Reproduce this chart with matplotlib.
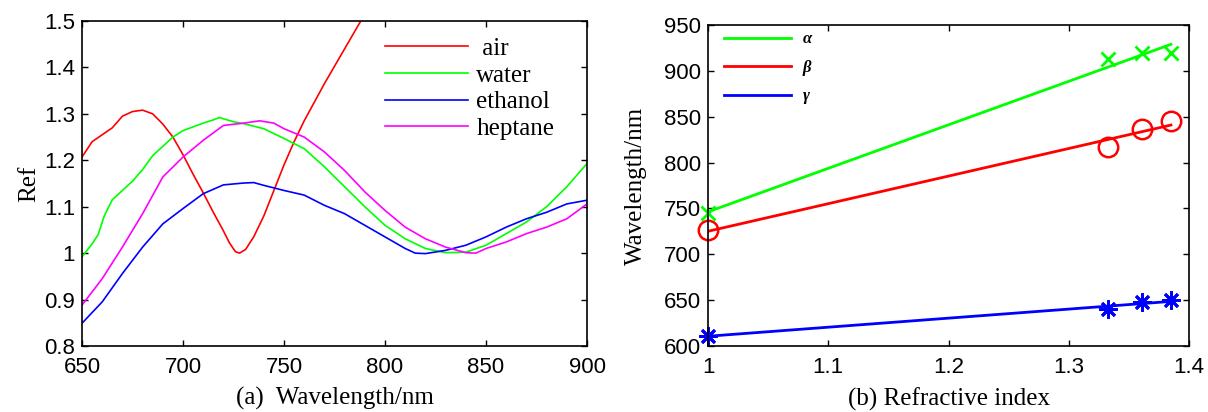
import numpy as np
import matplotlib
matplotlib.use('Agg')
import matplotlib.pyplot as plt
from matplotlib.ticker import FuncFormatter

# (a) spectra: wavelength (nm) vs normalised reflectance
wl_air = [650, 655, 660, 665, 670, 675, 680, 685, 690, 695, 700, 705, 710, 715,
          720, 723, 726, 728, 731, 735, 740, 745, 750, 755, 760, 770, 780, 790]
ref_air = [1.207, 1.24, 1.255, 1.27, 1.295, 1.305, 1.308, 1.300, 1.278, 1.250,
           1.212, 1.17, 1.13, 1.088, 1.048, 1.022, 1.003, 1.0, 1.008, 1.035,
           1.08, 1.135, 1.19, 1.24, 1.285, 1.365, 1.44, 1.515]

wl = [650, 655, 658, 661, 665, 670, 675, 680, 685, 690, 695, 700, 710, 715, 718,
      725, 730, 740, 750, 760, 770, 780, 790, 800, 810, 820, 830, 840, 850,
      860, 870, 880, 890, 900]
ref_water = [0.992, 1.02, 1.04, 1.08, 1.115, 1.135, 1.155, 1.18, 1.21, 1.23,
             1.25, 1.264, 1.28, 1.287, 1.292, 1.283, 1.279, 1.268, 1.247, 1.225,
             1.186, 1.143, 1.1, 1.06, 1.031, 1.01, 1.001, 1.002, 1.017, 1.042,
             1.067, 1.1, 1.143, 1.193]

wl_eth = [650, 660, 670, 680, 690, 700, 710, 720, 730, 735, 740, 750, 760, 770,
          780, 790, 800, 810, 815, 820, 830, 840, 850, 860, 870, 880, 890, 900]
ref_ethanol = [0.849, 0.895, 0.956, 1.013, 1.063, 1.096, 1.128, 1.147, 1.151,
               1.152, 1.146, 1.135, 1.125, 1.103, 1.085, 1.06, 1.035, 1.01, 1.0,
               0.999, 1.006, 1.017, 1.035, 1.056, 1.074, 1.088, 1.106, 1.114]

wl_hep = [650, 660, 670, 680, 690, 700, 710, 720, 730, 738, 745, 750, 760, 770,
          780, 790, 800, 810, 820, 830, 840, 845, 850, 860, 870, 880, 890, 900]
ref_heptane = [0.888, 0.945, 1.013, 1.085, 1.164, 1.207, 1.243, 1.275, 1.28,
               1.285, 1.28, 1.268, 1.25, 1.218, 1.178, 1.132, 1.092, 1.056,
               1.031, 1.013, 1.001, 1.0, 1.01, 1.024, 1.042, 1.056, 1.074, 1.106]

# (b) resonance wavelength vs refractive index
n_idx = [1.0, 1.333, 1.361, 1.385]
lam_alpha = [745, 913, 919, 920]
lam_beta = [726, 817, 837, 845]
lam_gamma = [611, 640, 648, 650]

plt.rcParams['font.family'] = 'Liberation Sans'
serif = 'Liberation Serif'

fig = plt.figure(figsize=(12.08, 4.12), dpi=100)
ax1 = fig.add_axes([82/1208, 66/412, 505/1208, 325/412])
ax2 = fig.add_axes([708/1208, 66/412, 481/1208, 321/412])


def fmt(v, pos):
    return ('%g' % round(v, 6))


for ax in (ax1, ax2):
    ax.tick_params(direction='in', top=True, right=True, length=4, width=1,
                   labelsize=16, pad=5)
    ax.tick_params(axis='x', pad=8)
    for s in ax.spines.values():
        s.set_linewidth(1.2)
    ax.xaxis.set_major_formatter(FuncFormatter(fmt))
    ax.yaxis.set_major_formatter(FuncFormatter(fmt))

lw = 1.2
ax1.plot(wl_air, ref_air, color='#ff0000', lw=lw, label=' air')
ax1.plot(wl, ref_water, color='#00ff00', lw=lw, label='water')
ax1.plot(wl_eth, ref_ethanol, color='#0000ff', lw=lw, label='ethanol')
ax1.plot(wl_hep, ref_heptane, color='#ff00ff', lw=lw, label='heptane')
ax1.set_xlim(650, 900)
ax1.set_ylim(0.8, 1.5)
ax1.set_xticks(np.arange(650, 901, 50))
ax1.set_yticks(np.arange(0.8, 1.51, 0.1))
ax1.set_xlabel('(a)  Wavelength/nm', family=serif, fontsize=18, labelpad=6)
ax1.set_ylabel('Ref', family=serif, fontsize=18, labelpad=3)
ax1.legend(loc='upper left', bbox_to_anchor=(0.6, 0.95), frameon=False,
           prop={'family': serif, 'size': 18}, handlelength=3.3,
           handletextpad=0.35, labelspacing=0.17, borderpad=0, borderaxespad=0)

# linear fits
nn = np.array(n_idx)
cols = ['#00ff00', '#ff0000', '#0000ff']
labs = ['α', 'β', 'γ']
mks = [dict(marker='x', ms=10, mew=2, mfc='none'),
       dict(marker='o', ms=14, mew=1.8, mfc='none'),
       dict(marker=(8, 2, 0), ms=13, mew=2)]
for ys, c, lb, mk in zip([lam_alpha, lam_beta, lam_gamma], cols, labs, mks):
    p = np.polyfit(nn, ys, 1)
    ax2.plot(nn[[0, -1]], np.polyval(p, nn[[0, -1]]), color=c, lw=2, label=lb)
    ax2.plot(nn, ys, ls='none', color=c, mec=c, clip_on=False, **mk)

ax2.set_xlim(1, 1.4)
ax2.set_ylim(600, 950)
ax2.set_xticks([1, 1.1, 1.2, 1.3, 1.4])
ax2.set_yticks(np.arange(600, 951, 50))
ax2.set_xlabel('(b) Refractive index', family=serif, fontsize=18, labelpad=7)
ax2.set_ylabel('Wavelength/nm', family=serif, fontsize=18, labelpad=12)
leg = ax2.legend(loc='upper left', bbox_to_anchor=(0.034, 0.98), frameon=False,
                 prop={'family': serif, 'size': 12, 'style': 'italic',
                       'weight': 'bold'},
                 handlelength=4.0, handletextpad=0.7, labelspacing=0.75,
                 borderpad=0, borderaxespad=0)

fig.savefig('out.png', dpi=100)
